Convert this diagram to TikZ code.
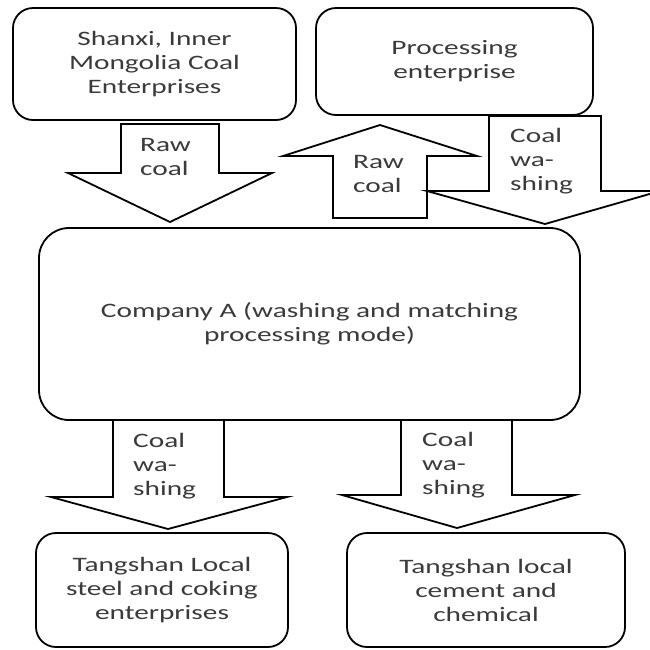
\documentclass[tikz,border=0pt]{standalone}
\usepackage{fontspec}
\setmainfont[FakeStretch=1.43]{Carlito}
\usepackage{tikz}
\definecolor{txtgray}{HTML}{3A3A3A}

\begin{document}
\begin{tikzpicture}[x=1pt,y=-1pt,
		box/.style={draw,line width=1.8pt,rounded corners=20pt,align=center,inner sep=0pt,text=txtgray,font=\fontsize{20.5}{24}\selectfont},
		blk/.style={draw,fill=white,line width=1.8pt,line join=miter},
		lbl/.style={anchor=west,align=left,inner sep=0pt,text=txtgray,font=\fontsize{20.5}{24}\selectfont}]
		\useasboundingbox (0,0) rectangle (650,649);
		\clip (0,0) rectangle (650,649);
		
		\node[box,minimum width=283pt,minimum height=112pt] (shanxi) at (154.5,64) {Shanxi, Inner\\Mongolia Coal\\Enterprises};
		\node[box,minimum width=277pt,minimum height=107pt] (proc) at (454.5,61.5) {Processing\\enterprise};
		\node[box,rounded corners=30pt,minimum width=541pt,minimum height=192pt] (compA) at (309.5,324) {Company A (washing and matching\\processing mode)};
		\node[box,minimum width=252pt,minimum height=114pt] (steel) at (162,590) {Tangshan Local\\steel and coking\\enterprises};
		\node[box,minimum width=278pt,minimum height=114pt] (cement) at (486,590) {Tangshan local\\cement and\\chemical};
		
		\draw[blk] (121,124) -- (219,124) -- (219,173) -- (272,173) -- (170,222) -- (68,173) -- (121,173) -- cycle;
		\draw[blk] (333,218) -- (427,218) -- (427,156) -- (477,156) -- (380,125) -- (283,156) -- (333,156) -- cycle;
		\draw[blk] (489,116) -- (601,116) -- (601,191) -- (660,191) -- (545,224) -- (427,191) -- (489,191) -- cycle;
		\draw[blk] (113,420) -- (224,420) -- (224,497) -- (287,497) -- (168,529) -- (51,497) -- (113,497) -- cycle;
		\draw[blk] (401,420) -- (512,420) -- (512,495) -- (575,495) -- (457,528) -- (342,495) -- (401,495) -- cycle;
		
		\node[lbl] (rawin) at (140,156.5) {Raw\\coal};
		\node[lbl] (rawout) at (353,173.5) {Raw\\coal};
		\node[lbl] (washback) at (510,161) {Coal\\wa-\\shing};
		\node[lbl] (washsteel) at (133,466) {Coal\\wa-\\shing};
		\node[lbl] (washcement) at (422,465) {Coal\\wa-\\shing};
	\end{tikzpicture}
\end{document}
